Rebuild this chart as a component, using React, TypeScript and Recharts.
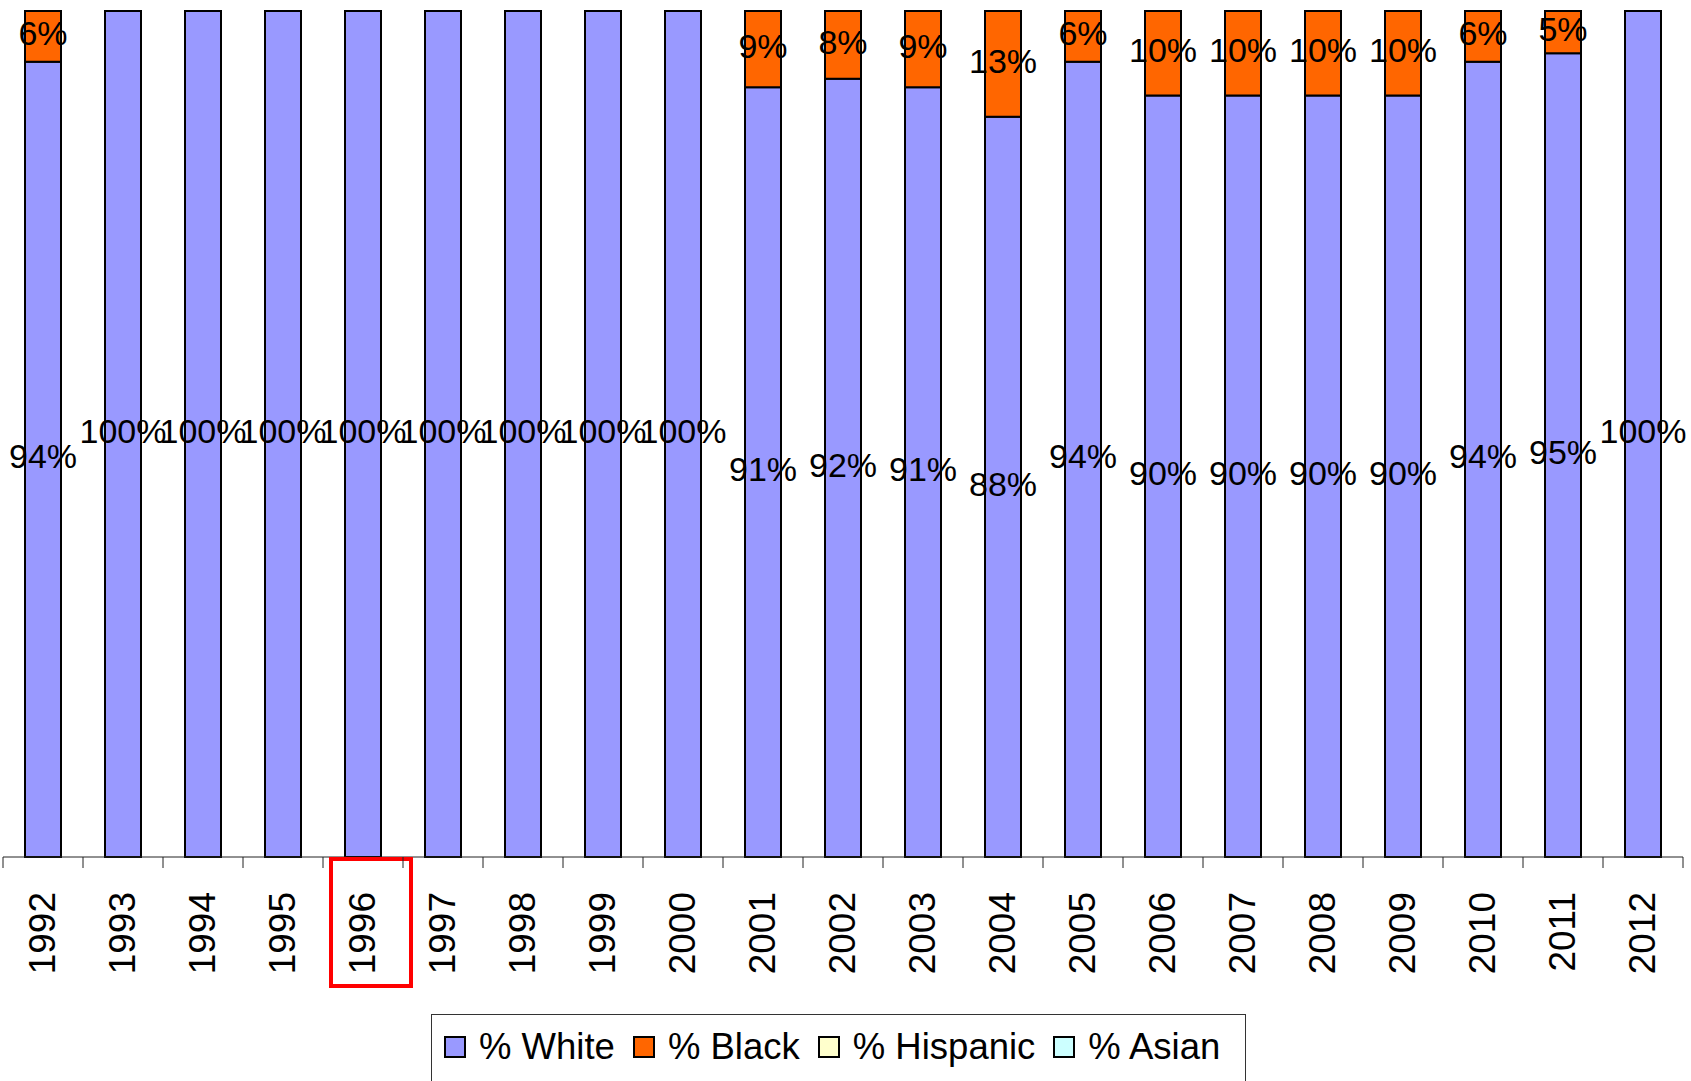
import { BarChart, Bar, XAxis, YAxis, LabelList } from 'recharts'

// categories
const years = [
  '1992', '1993', '1994', '1995', '1996', '1997', '1998', '1999', '2000', '2001', '2002',
  '2003', '2004', '2005', '2006', '2007', '2008', '2009', '2010', '2011', '2012',
]

// series values (percent of total)
const white = [94, 100, 100, 100, 100, 100, 100, 100, 100, 91, 92, 91, 87.5, 94, 90, 90, 90, 90, 94, 95, 100]
const black = [6, 0, 0, 0, 0, 0, 0, 0, 0, 9, 8, 9, 12.5, 6, 10, 10, 10, 10, 6, 5, 0]
const hispanic = [0, 0, 0, 0, 0, 0, 0, 0, 0, 0, 0, 0, 0, 0, 0, 0, 0, 0, 0, 0, 0]
const asian = [0, 0, 0, 0, 0, 0, 0, 0, 0, 0, 0, 0, 0, 0, 0, 0, 0, 0, 0, 0, 0]

// the year boxed in red on the original
const highlighted = ['1996']

const seriesNames = ['% White', '% Black', '% Hispanic', '% Asian']
const seriesColors = ['#9999FF', '#FF6600', '#FFFFCC', '#CCFFFF']

const FONT = '"Liberation Sans", Arial, sans-serif'
const W = 1691
const H = 1081
const MARGIN = { top: 11, right: 8, left: 3, bottom: 0 }
const BAND = (W - MARGIN.left - MARGIN.right) / years.length

const data = years.map((year, i) => ({
  year,
  [seriesNames[0]]: white[i],
  [seriesNames[1]]: black[i],
  [seriesNames[2]]: hispanic[i],
  [seriesNames[3]]: asian[i],
}))

function SegmentLabel(props: any) {
  const { x, y, width, height, value } = props
  if (!value) return null
  return (
    <text
      x={x + width / 2}
      y={y + height / 2 - 3}
      textAnchor="middle"
      dominantBaseline="central"
      fontSize={34}
      fontFamily={FONT}
      fill="#000"
    >
      {Math.round(value)}%
    </text>
  )
}

// boundary tick marks + rotated year label
function YearTick(props: any) {
  const { x, y, payload } = props
  const idx = payload.index ?? props.index
  const half = BAND / 2
  const boxed = highlighted.includes(payload.value)
  return (
    <g>
      <line x1={x - half} y1={y} x2={x - half} y2={y + 11} stroke="#222" strokeWidth={1} />
      {idx === years.length - 1 && (
        <line x1={x + half} y1={y} x2={x + half} y2={y + 11} stroke="#222" strokeWidth={1} />
      )}
      <text
        transform={`translate(${x - 1},${y + 35}) rotate(-90)`}
        textAnchor="end"
        dominantBaseline="central"
        fontSize={37}
        fontFamily={FONT}
        fill="#000"
      >
        {payload.value}
      </text>
      {boxed && (
        <rect x={x - 32} y={y + 2} width={80} height={127} fill="none" stroke="#FF0000" strokeWidth={4} />
      )}
    </g>
  )
}

function LegendBox() {
  return (
    <div
      style={{
        position: 'absolute',
        left: 431,
        top: 1014,
        width: 815,
        height: 90,
        border: '1px solid #333',
        boxSizing: 'border-box',
        background: '#fff',
        display: 'flex',
        alignItems: 'flex-start',
        paddingLeft: 12,
        paddingTop: 10,
        fontFamily: FONT,
        fontSize: 36.5,
        color: '#000',
        whiteSpace: 'nowrap',
      }}
    >
      {seriesNames.map((name, i) => (
        <div
          key={name}
          style={{ display: 'flex', alignItems: 'center', marginRight: 18, height: 44, flexShrink: 0 }}
        >
          <span
            style={{
              width: 22,
              height: 22,
              boxSizing: 'border-box',
              border: '2px solid #000',
              background: seriesColors[i],
              marginRight: 13,
              display: 'inline-block',
              flexShrink: 0,
            }}
          />
          <span style={{ lineHeight: '44px' }}>{name}</span>
        </div>
      ))}
    </div>
  )
}

export default function App() {
  return (
    <div
      style={{
        position: 'fixed',
        left: 0,
        top: 0,
        width: W,
        height: H,
        overflow: 'hidden',
        background: '#fff',
      }}
    >
      <BarChart width={W} height={H} data={data} margin={MARGIN} barSize={36}>
        <XAxis
          dataKey="year"
          height={224}
          interval={0}
          tickSize={0}
          tickMargin={0}
          tickLine={false}
          axisLine={{ stroke: '#222', strokeWidth: 1 }}
          tick={<YearTick />}
        />
        <YAxis hide domain={[0, 100]} />
        {seriesNames.map((name, i) => (
          <Bar
            key={name}
            dataKey={name}
            stackId="a"
            fill={seriesColors[i]}
            stroke="#000"
            strokeWidth={2}
            isAnimationActive={false}
          >
            <LabelList dataKey={name} content={<SegmentLabel />} />
          </Bar>
        ))}
      </BarChart>
      <LegendBox />
    </div>
  )
}
